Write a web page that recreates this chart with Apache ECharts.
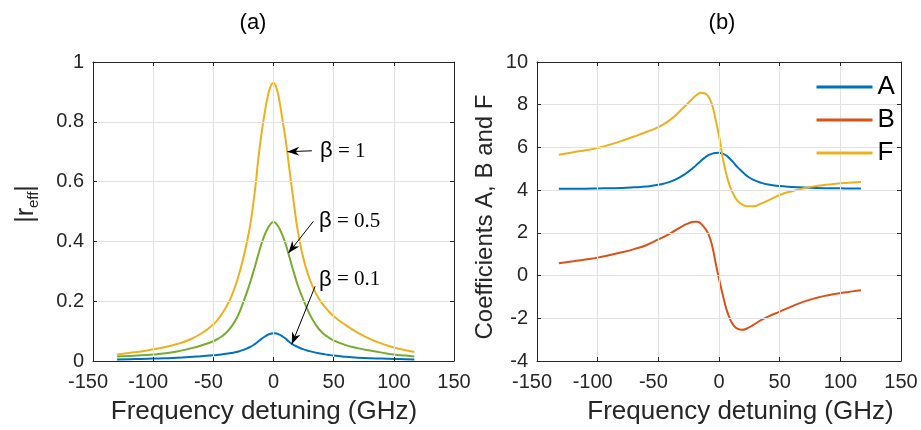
<!DOCTYPE html>
<html>
<head>
<meta charset="utf-8">
<title>Effective reflectivity and coefficients A, B, F vs. frequency detuning</title>
<script src="https://cdn.jsdelivr.net/npm/echarts@6/dist/echarts.min.js"></script>
<style>
  html, body { margin: 0; padding: 0; background: #ffffff; }
  #chart { width: 921px; height: 430px; }
</style>
</head>
<body>
<div id="chart"></div>
<script>
// ---- Panel (a): |r_eff| against frequency detuning (GHz) ----
const detuningA = [-130, -120, -110, -100, -90, -80, -70, -60, -50, -45, -40, -35, -30, -25, -20, -17.5, -15, -12.5, -10, -7.5, -5, -2.5,
  0, 2.5, 5, 7.5, 10, 12.5, 15, 17.5, 20, 25, 30, 35, 40, 45, 50, 60, 70, 80, 90, 100, 110, 117];
const rBeta1 = [0.022, 0.027, 0.032, 0.039, 0.047, 0.057, 0.071, 0.092, 0.122, 0.146, 0.176, 0.216, 0.272, 0.345, 0.440, 0.505, 0.585, 0.680, 0.760, 0.825, 0.880, 0.918,
  0.930, 0.912, 0.868, 0.805, 0.742, 0.665, 0.585, 0.510, 0.440, 0.340, 0.275, 0.228, 0.195, 0.170, 0.150, 0.120, 0.095, 0.074, 0.058, 0.045, 0.036, 0.030];
const rBeta05 = [0.015, 0.017, 0.019, 0.022, 0.026, 0.032, 0.041, 0.052, 0.066, 0.077, 0.092, 0.115, 0.148, 0.198, 0.255, 0.288, 0.322, 0.358, 0.392, 0.420, 0.442, 0.458,
  0.465, 0.458, 0.442, 0.420, 0.392, 0.358, 0.322, 0.288, 0.255, 0.203, 0.157, 0.122, 0.097, 0.081, 0.069, 0.053, 0.043, 0.035, 0.028, 0.022, 0.018, 0.015];
const rBeta01 = [0.005, 0.006, 0.007, 0.008, 0.009, 0.011, 0.013, 0.016, 0.019, 0.021, 0.024, 0.027, 0.031, 0.037, 0.046, 0.051, 0.058, 0.066, 0.074, 0.081, 0.087, 0.091,
  0.093, 0.092, 0.088, 0.082, 0.075, 0.066, 0.058, 0.052, 0.047, 0.039, 0.033, 0.028, 0.024, 0.021, 0.018, 0.014, 0.011, 0.009, 0.008, 0.007, 0.006, 0.005];

// Arrow annotations in data units: label anchor, arrow tail, arrow tip
const betaNotes = [
  { beta: '1',   label: [38.7, 0.702], tail: [31.9, 0.703], tip: [11.5, 0.700] },
  { beta: '0.5', label: [37.9, 0.467], tail: [33.1, 0.467], tip: [12.4, 0.361] },
  { beta: '0.1', label: [37.9, 0.272], tail: [34.6, 0.250], tip: [15.2, 0.056] }
];

// ---- Panel (b): coefficients A, B and F ----
const detuningB = [-132, -120, -110, -100, -90, -80, -70, -60, -50, -40, -30, -25, -21, -18, -15, -12, -9, -6, -3,
  0, 3, 6, 9, 12, 15, 19, 23, 28, 35, 42, 50, 60, 70, 80, 90, 100, 110, 117];
const coefA = [4.06, 4.07, 4.07, 4.08, 4.09, 4.10, 4.13, 4.17, 4.25, 4.40, 4.68, 4.88, 5.06, 5.21, 5.37, 5.51, 5.63, 5.70, 5.74,
  5.75, 5.71, 5.62, 5.47, 5.29, 5.09, 4.87, 4.67, 4.49, 4.34, 4.25, 4.19, 4.15, 4.12, 4.10, 4.09, 4.085, 4.08, 4.08];
const coefB = [0.58, 0.67, 0.75, 0.84, 0.96, 1.09, 1.24, 1.42, 1.69, 1.98, 2.32, 2.45, 2.52, 2.52, 2.44, 2.24, 1.98, 1.48, 0.66,
  -0.15, -0.88, -1.55, -2.02, -2.33, -2.48, -2.54, -2.48, -2.32, -2.08, -1.88, -1.69, -1.44, -1.22, -1.05, -0.92, -0.82, -0.74, -0.69];
const coefF = [5.66, 5.77, 5.87, 5.97, 6.13, 6.31, 6.51, 6.72, 6.95, 7.30, 7.82, 8.10, 8.33, 8.47, 8.56, 8.54, 8.40, 8.05, 7.35,
  6.55, 5.55, 4.75, 4.18, 3.80, 3.52, 3.33, 3.25, 3.24, 3.38, 3.56, 3.77, 3.95, 4.09, 4.19, 4.26, 4.32, 4.36, 4.38];

const xTicks = { min: -150, max: 150, step: 50 };
const yTicksA = { min: 0, max: 1, step: 0.2 };
const yTicksB = { min: -4, max: 10, step: 2 };

const SANS = '"Liberation Sans", Arial, Helvetica, sans-serif';
const SERIF = '"Liberation Serif", "Times New Roman", serif';
const INK = '#262626';
const GRID_LINE = '#e2e2e2';
const C_BLUE = '#0072BD', C_RED = '#D95319', C_YELLOW = '#EDB120', C_GREEN = '#77AC30';

const pair = (xs, ys) => xs.map((x, i) => [x, ys[i]]);

// Tick labels: negative x values hang their minus sign to the left of the tick
const tickFont = { fontFamily: SANS, fontSize: 20, color: INK };
function tickLabel(kind) {
  const lab = Object.assign({ show: true, margin: kind === 'x' ? 11 : 9 }, tickFont);
  if (kind === 'x') {
    lab.formatter = v => (v < 0 ? '{neg|' + v + '}' : String(v));
    lab.rich = { neg: Object.assign({ padding: [0, 10, 0, 0] }, tickFont) };
  }
  return lab;
}

function makeAxis(kind, gridIndex, position, ticks, main, extra) {
  const ax = {
    type: 'value', gridIndex, position,
    min: ticks.min, max: ticks.max, interval: ticks.step,
    axisLine: { show: true, onZero: false, lineStyle: { color: INK, width: 1 } },
    axisTick: { show: true, inside: true, length: 4, lineStyle: { color: INK, width: 1 } },
    axisLabel: main ? tickLabel(kind) : { show: false },
    splitLine: main ? { show: true, lineStyle: { color: GRID_LINE, width: 1 } } : { show: false },
    z: 5
  };
  return Object.assign(ax, extra || {});
}

function curve(name, xs, ys, color, axisIndex) {
  return {
    name, type: 'line', xAxisIndex: axisIndex, yAxisIndex: axisIndex, data: pair(xs, ys),
    smooth: 0.5, showSymbol: false, symbol: 'none',
    lineStyle: { color, width: 2 }, itemStyle: { color },
    emphasis: { disabled: true }
  };
}

// Concave arrow head pointing up; a zero-area subpath ahead of the tip makes the
// bounding box symmetric about the tip, so the tip sits on the line's end point.
const ARROW_HEAD = 'path://M0,0 L5,13 L0,9 L-5,13 Z M0,-13 L0.01,-13 L0,-13 Z';

const noteSeries = curve('β = 0.1', detuningA, rBeta01, C_BLUE, 0);
noteSeries.markLine = {
  silent: true, animation: false,
  symbol: ['none', ARROW_HEAD], symbolSize: [9, 24],
  lineStyle: { color: '#000', width: 1, type: 'solid' },
  label: { show: false },
  emphasis: { disabled: true },
  data: betaNotes.map(n => [{ coord: n.tail }, { coord: n.tip }])
};
noteSeries.markPoint = {
  silent: true, animation: false,
  symbol: 'circle', symbolSize: 0,
  itemStyle: { color: 'rgba(0,0,0,0)' },
  label: {
    show: true, position: 'right', distance: 0,
    formatter: p => '{g|β}{s| = ' + p.name + '}',
    rich: {
      g: { fontFamily: SANS, fontSize: 22, color: '#000' },
      s: { fontFamily: SERIF, fontSize: 21, color: '#000' }
    }
  },
  data: betaNotes.map(n => ({ name: n.beta, coord: n.label }))
};

const option = {
  backgroundColor: '#ffffff',
  animation: false,
  textStyle: { fontFamily: SANS },
  grid: [
    { left: 93, right: 467, top: 62, bottom: 68, containLabel: false },
    { left: 537, right: 20, top: 62, bottom: 66, containLabel: false }
  ],
  graphic: [
    { type: 'text', x: 253, y: 23, style: { text: '(a)', font: '22px ' + SANS, fill: '#000', align: 'center', verticalAlign: 'middle' } },
    { type: 'text', x: 722, y: 23, style: { text: '(b)', font: '22px ' + SANS, fill: '#000', align: 'center', verticalAlign: 'middle' } },
    {
      type: 'text', x: 26, y: 204, rotation: Math.PI / 2,
      style: {
        text: '|r{sub|eff}|', fontFamily: SANS, fontSize: 25, fill: INK, lineHeight: 30,
        align: 'center', verticalAlign: 'middle',
        rich: { sub: { fontFamily: SANS, fontSize: 15, fill: INK, verticalAlign: 'bottom', lineHeight: 15 } }
      }
    }
  ],
  legend: {
    data: ['A', 'B', 'F'],
    orient: 'vertical',
    left: 815, top: 74, padding: 0, z: 20,
    itemWidth: 56, itemHeight: 14, itemGap: 7,
    lineStyle: { width: 3 },
    itemStyle: { opacity: 0 },
    textStyle: { fontFamily: SANS, fontSize: 26, color: '#000', lineHeight: 25 },
    selectedMode: false
  },
  xAxis: [
    makeAxis('x', 0, 'bottom', xTicks, true, {
      name: 'Frequency detuning (GHz)', nameLocation: 'middle', nameGap: 38,
      nameTextStyle: { fontFamily: SANS, fontSize: 26, color: INK, padding: [0, 19, 0, 0] }
    }),
    makeAxis('x', 0, 'top', xTicks, false),
    makeAxis('x', 1, 'bottom', xTicks, true, {
      name: 'Frequency detuning (GHz)', nameLocation: 'middle', nameGap: 38,
      nameTextStyle: { fontFamily: SANS, fontSize: 26, color: INK, padding: [0, 0, 0, 43] }
    }),
    makeAxis('x', 1, 'top', xTicks, false)
  ],
  yAxis: [
    makeAxis('y', 0, 'left', yTicksA, true),
    makeAxis('y', 0, 'right', yTicksA, false),
    makeAxis('y', 1, 'left', yTicksB, true, {
      name: 'Coefficients A, B and F', nameLocation: 'middle', nameGap: 40, nameRotate: 90,
      nameTextStyle: { fontFamily: SANS, fontSize: 24, color: INK, padding: [0, 11, 0, 0] }
    }),
    makeAxis('y', 1, 'right', yTicksB, false)
  ],
  series: [
    curve('β = 1', detuningA, rBeta1, C_YELLOW, 0),
    curve('β = 0.5', detuningA, rBeta05, C_GREEN, 0),
    noteSeries,
    curve('A', detuningB, coefA, C_BLUE, 2),
    curve('B', detuningB, coefB, C_RED, 2),
    curve('F', detuningB, coefF, C_YELLOW, 2)
  ]
};

const chart = echarts.init(document.getElementById('chart'), null, { renderer: 'canvas' });
chart.setOption(option);
</script>
</body>
</html>
